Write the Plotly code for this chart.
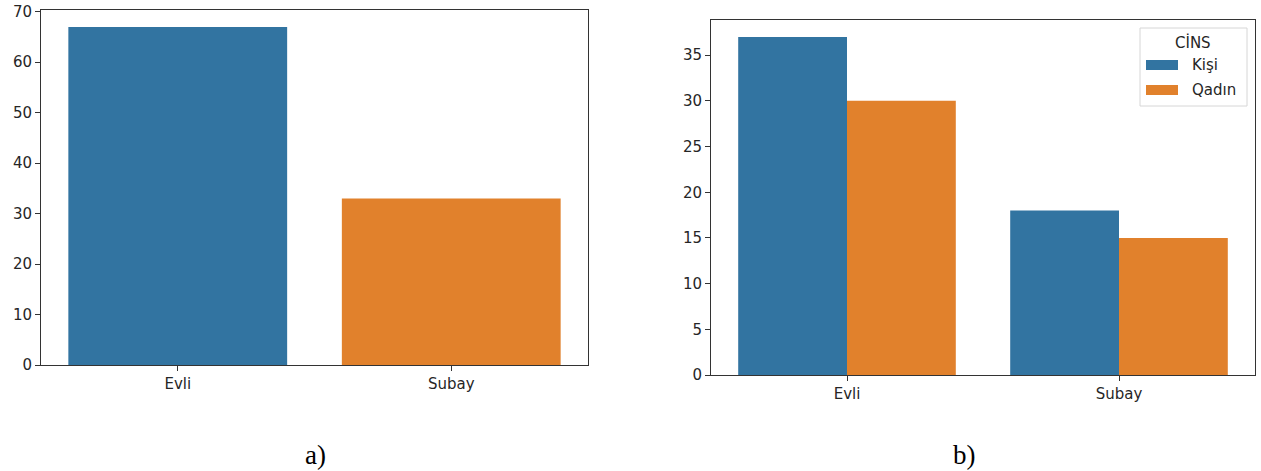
import plotly.graph_objects as go

# Marital status counts (total) and split by gender
categories = ["Evli", "Subay"]
total_counts = [67, 33]
male_counts = [37, 18]      # Kişi
female_counts = [30, 15]    # Qadın
series_names = ["Kişi", "Qadın"]
legend_title = "CİNS"
captions = ["a)", "b)"]

BLUE = "#3274a1"
ORANGE = "#e1812c"
W, H = 1261, 471

fig = go.Figure()

# Panel a: totals
fig.add_trace(go.Bar(
    x=categories, y=total_counts, width=0.8,
    marker=dict(color=[BLUE, ORANGE], line=dict(width=0)),
    xaxis="x", yaxis="y", showlegend=False,
))

# Panel b: grouped by gender
for name, vals, off, col in [(series_names[0], male_counts, -0.4, BLUE),
                             (series_names[1], female_counts, 0.0, ORANGE)]:
    fig.add_trace(go.Bar(
        x=categories, y=vals, width=0.4, offset=off,
        marker=dict(color=col, line=dict(width=0)), name=name,
        xaxis="x2", yaxis="y2", showlegend=False,
    ))

FONT = "DejaVu Sans"
TXT = "#262626"
tick_font = dict(family=FONT, size=15, color=TXT)
axis_common = dict(
    showline=True, mirror=True, linecolor="#333333", linewidth=1,
    showgrid=False, zeroline=False, ticks="outside", ticklen=5,
    tickcolor="#333333", tickfont=tick_font, automargin=False,
)


def px_x(p):
    return p / W


def px_y(p):
    return 1 - p / H


# Legend box for panel b, drawn in paper coordinates
shapes = [
    dict(type="rect", xref="paper", yref="paper",
         x0=px_x(1140), x1=px_x(1247), y0=px_y(106), y1=px_y(28),
         line=dict(color="#d6d6d6", width=1), fillcolor="white", layer="above"),
]
annotations = [
    dict(text=legend_title, x=px_x(1193), y=px_y(43), xref="paper", yref="paper",
         showarrow=False, xanchor="center", yanchor="middle",
         font=dict(family=FONT, size=15, color=TXT)),
]
for i, (name, col) in enumerate([(series_names[0], BLUE), (series_names[1], ORANGE)]):
    yc = 65 + i * 25
    shapes.append(dict(type="rect", xref="paper", yref="paper",
                       x0=px_x(1146), x1=px_x(1178), y0=px_y(yc + 5), y1=px_y(yc - 5),
                       line=dict(width=0), fillcolor=col, layer="above"))
    annotations.append(dict(text=name, x=px_x(1190), y=px_y(yc), xref="paper", yref="paper",
                            showarrow=False, xanchor="left", yanchor="middle",
                            font=dict(family=FONT, size=15, color=TXT)))

for cap, xc in zip(captions, [315, 965]):
    annotations.append(dict(text=cap, x=px_x(xc), y=px_y(455), xref="paper", yref="paper",
                            showarrow=False, xanchor="center", yanchor="middle",
                            font=dict(family="Liberation Serif", size=27, color="black")))

fig.update_layout(
    width=W, height=H, autosize=False,
    margin=dict(l=0, r=0, t=0, b=0, pad=0),
    paper_bgcolor="white", plot_bgcolor="white",
    barmode="overlay", showlegend=False,
    xaxis=dict(domain=[px_x(41), px_x(588)], range=[-0.5, 1.5], anchor="y",
               type="category", **axis_common),
    yaxis=dict(domain=[px_y(365), px_y(10)], range=[0, 70.35], anchor="x",
               tickvals=[0, 10, 20, 30, 40, 50, 60, 70], **axis_common),
    xaxis2=dict(domain=[px_x(711), px_x(1255)], range=[-0.5, 1.5], anchor="y2",
                type="category", **axis_common),
    yaxis2=dict(domain=[px_y(375), px_y(20)], range=[0, 38.85], anchor="x2",
                tickvals=[0, 5, 10, 15, 20, 25, 30, 35], **axis_common),
    shapes=shapes,
    annotations=annotations,
)

fig.write_html("out.html")
